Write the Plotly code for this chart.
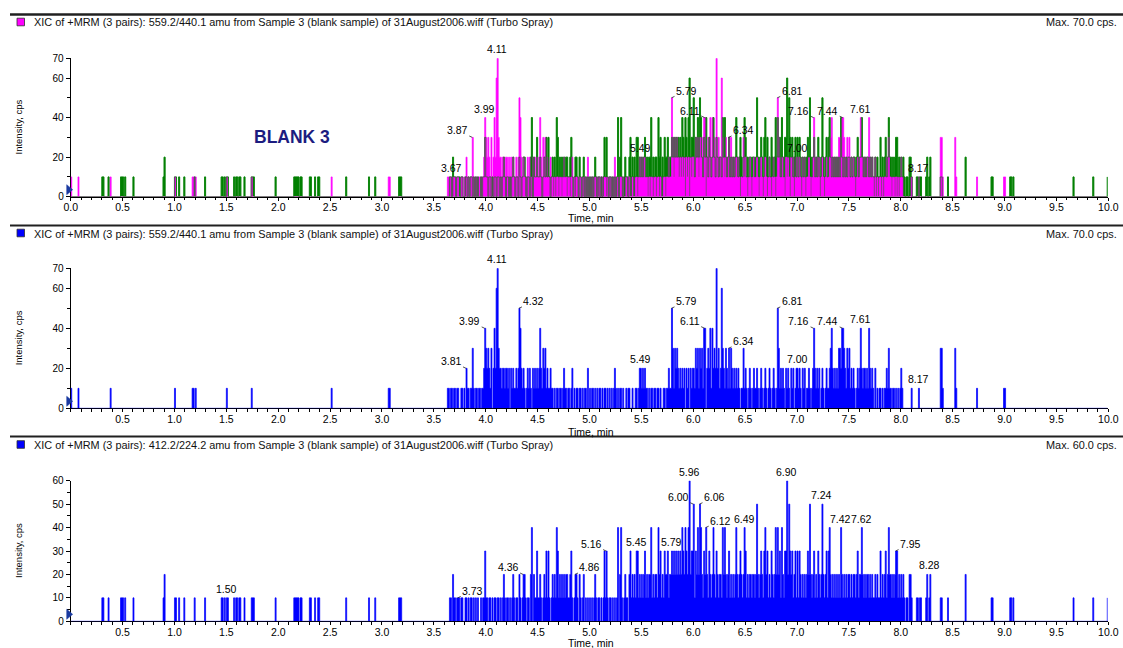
import plotly.graph_objects as go

# ---------------- data ----------------
LEVEL_CPS = 10          # one digit = 10 cps
TIME_STEP_MIN = 0.01    # one digit = 0.01 min

# XIC 559.2/440.1 : one string per minute, digits = intensity / 10 cps
xic_559_levels = [
    "1000000100 0000000000 0000000000 0000000010 0000000000 0000000000 0000000000 0000000000 0000000000 0000000000",
    "1000000000 0000000110 1000000000 0000000000 0000000000 1000000000 0000000000 0000100000 0000000000 0000000000",
    "0000000000 0000000000 0000000000 0000000000 0000000000 0100000000 0000000000 0000000000 0000000000 0000000000",
    "0000001100 0000000000 0000000000 0000000000 0000000000 0000000000 0001101101 1011001101 0211011310 1101101124",
    "3232130242 6732212212 2120212112 1254212101 2121021212 1242132312 1121101011 0110121101 1012010110 1101011020",
    "1011010101 1010110101 0101210101 1010010110 0100110122 1212110101 1011011010 0110112115 3132321212 1202120212",
    "2132313231 4402324142 3272312632 1321313212 1212101131 2101210121 1210121012 1012101210 1531212102 1210212012",
    "2121021201 1210124212 1201210121 1234212121 3324432132 3121210121 2421221214 2121020101 1010112131 1011010101",
    "2100000000 1000000100 0000000000 0000000033 1000000000 0031000000 0000000000 0001000000 0000000000 0000000001",
    "1000000000 0000000000 0000000000 0000000000 0000000000 0000000000 0000000000 0000000000 0000000000 0000000000",
]

# XIC 412.2/224.2
xic_412_levels = [
    "0000000000 0000000000 0000000000 1100001000 0000000011 1010000000 1000000000 0000000000 0000000001 2000000000",
    "1100100001 0000000001 0000000001 0000000000 0000011010 1100000101 1011000100 0000111000 0000000000 0000000100",
    "0000000000 0000011111 0110000000 1100010011 0000000000 0000000000 0000010000 0000000000 0000000100 0001000000",
    "0000000000 0000001110 0000000000 0000000000 0000000000 0000000000 0000011021 1011101100 1101011010 1010010113",
    "1101101011 0110101210 1101012101 1021012210 1102402113 1121012131 3101212143 1212121221 1231012210 2101201010",
    "1010121011 0101313101 1010101402 4101211023 1212133121 2123121224 1212214231 2132231223 2323232324 3243246233",
    "5132425421 3242132124 2132122142 4212312121 2421232124 3121221221 2521232134 2312132124 2423142133 6253231231",
    "3132121212 3252123121 3212521231 3421212121 2142121212 2121221231 2242121221 2121121211 3121231242 2121233121",
    "2121011022 1000011011 0000120120 0000000011 0000010000 0000000000 0020000000 0000000000 0000000110 0000000000",
    "0000011010 0000000000 0000000000 0000000000 0000000000 0000000000 0000001000 0000000000 0000010000 0000000001",
]

panel_headers = [
    "XIC of +MRM (3 pairs): 559.2/440.1 amu from Sample 3 (blank sample) of 31August2006.wiff (Turbo Spray)",
    "XIC of +MRM (3 pairs): 559.2/440.1 amu from Sample 3 (blank sample) of 31August2006.wiff (Turbo Spray)",
    "XIC of +MRM (3 pairs): 412.2/224.2 amu from Sample 3 (blank sample) of 31August2006.wiff (Turbo Spray)",
]
panel_max = ["Max. 70.0 cps.", "Max. 70.0 cps.", "Max. 60.0 cps."]
panel_y_max = [70, 70, 60]
panel_y_ticks = [[0, 20, 40, 60, 70], [0, 20, 40, 60, 70], [0, 10, 20, 30, 40, 50, 60]]
x_ticks_full = [0.0, 0.5, 1.0, 1.5, 2.0, 2.5, 3.0, 3.5, 4.0, 4.5, 5.0,
                5.5, 6.0, 6.5, 7.0, 7.5, 8.0, 8.5, 9.0, 9.5, 10.0]

# peak labels: text (= retention time), level in cps, hook side
p1_labels = ["3.67", "3.87", "3.99", "4.11", "5.49", "5.79", "6.11", "6.34", "6.81", "7.00", "7.16", "7.44", "7.61", "8.17"]
p1_levels = [10, 30, 40, 70, 20, 50, 40, 30, 50, 20, 40, 40, 40, 10]
p1_sides = ["c", "r", "c", "c", "c", "l", "r", "l", "l", "c", "r", "r", "c", "c"]

p2_labels = ["3.81", "3.99", "4.11", "4.32", "5.49", "5.79", "6.11", "6.34", "6.81", "7.00", "7.16", "7.44", "7.61", "8.17"]
p2_levels = [20, 40, 70, 50, 20, 50, 40, 30, 50, 20, 40, 40, 40, 10]
p2_sides = ["r", "r", "c", "l", "c", "l", "r", "l", "l", "c", "r", "r", "c", "c"]

p3_labels = ["1.50", "3.73", "4.36", "4.86", "5.16", "5.45", "5.79", "5.96", "6.00", "6.06", "6.12", "6.49",
             "6.90", "7.24", "7.42", "7.62", "7.95", "8.28"]
p3_levels = [10, 10, 20, 20, 30, 30, 30, 60, 50, 50, 40, 40, 60, 50, 40, 40, 30, 20]
p3_sides = ["c", "l", "r", "l", "r", "c", "c", "c", "r", "l", "l", "c", "c", "c", "c", "c", "l", "c"]


def decode(rows):
    digits = "".join(rows).replace(" ", "")
    return [int(c) * LEVEL_CPS for c in digits]


vals_559 = decode(xic_559_levels)
vals_412 = decode(xic_412_levels)
times = [round(i * TIME_STEP_MIN, 2) for i in range(len(vals_559))]

# ---------------- layout geometry ----------------
W, H = 1123, 648
FONT = "Liberation Sans, Arial, sans-serif"
X0_PX, X1_PX = 70.7, 1108.3
panel_px = [(58.3, 196.7), (268.3, 408.3), (480.7, 621.3)]   # (top, bottom) of y axis
header_line_y = [14.5, 225.5, 436.5]
header_text_y = [22.5, 233.5, 445.0]
xtitle_y = [217.5, 431.5, 642.5]

MAGENTA = "#ff00ff"
GREEN = "#008000"
BLUE = "#0000ff"
NAVY = "#1c1c80"
MARKER = "#1a3aa0"

fig = go.Figure()


def add_trace(xa, ya, y, color, fill=True, width=0.7):
    fig.add_trace(go.Scatter(
        x=times, y=y, mode="lines", xaxis=xa, yaxis=ya,
        line=dict(color=color, width=width, shape="hv"),
        fill="tozeroy" if fill else "none", fillcolor=color,
        hoverinfo="skip", showlegend=False))


# overlay panel: green under magenta, then a thin green outline on top so both show
add_trace("x", "y", vals_412, GREEN)
add_trace("x", "y", vals_559, MAGENTA)
add_trace("x", "y", vals_412, GREEN, fill=False, width=0.6)
add_trace("x2", "y2", vals_559, BLUE)
add_trace("x3", "y3", vals_412, BLUE)

layout = dict(
    template="none",
    width=W, height=H, autosize=False,
    margin=dict(l=0, r=0, t=0, b=0, pad=0),
    paper_bgcolor="white", plot_bgcolor="white",
    font=dict(family=FONT, size=10, color="black"),
    showlegend=False,
)

xdom = [X0_PX / W, X1_PX / W]
annotations = []
shapes = []
for i in range(3):
    sfx = "" if i == 0 else str(i + 1)
    top, bot = panel_px[i]
    xt = x_ticks_full if i == 0 else x_ticks_full[1:]
    layout["xaxis" + sfx] = dict(
        domain=xdom, range=[0, 10], anchor="y" + sfx, automargin=False,
        showline=True, linecolor="black", linewidth=1, layer="below traces",
        showgrid=False, zeroline=False,
        tickmode="array", tickvals=xt, ticktext=["%.1f" % v for v in xt],
        ticks="outside", ticklen=3, tickcolor="black", tickwidth=1,
        ticklabelstandoff=-2,
        tickfont=dict(size=10.5, family=FONT),
        minor=dict(dtick=0.1, tick0=0, ticks="outside", ticklen=2.5, tickcolor="black", showgrid=False),
        fixedrange=True,
    )
    yt = panel_y_ticks[i]
    layout["yaxis" + sfx] = dict(
        domain=[1 - bot / H, 1 - top / H], range=[0, panel_y_max[i]], anchor="x" + sfx, automargin=False,
        showline=True, linecolor="black", linewidth=1, layer="below traces",
        showgrid=False, zeroline=False,
        tickmode="array", tickvals=yt, ticktext=[str(v) for v in yt],
        ticks="outside", ticklen=4, tickcolor="black",
        tickfont=dict(size=10, family=FONT),
        minor=dict(dtick=10 if i < 2 else 5, tick0=0, ticks="outside", ticklen=2.5, tickcolor="black",
                   showgrid=False),
        fixedrange=True,
    )
    # header rule + texts
    shapes.append(dict(type="line", xref="paper", yref="paper",
                       x0=10 / W, x1=1.0, y0=1 - header_line_y[i] / H, y1=1 - header_line_y[i] / H,
                       line=dict(color="#202020", width=2.5 if i == 0 else 2)))
    sq = MAGENTA if i == 0 else BLUE
    yc = header_text_y[i] - 0.5
    shapes.append(dict(type="rect", xref="paper", yref="paper",
                       x0=17 / W, x1=24.5 / W, y0=1 - (yc + 3.8) / H, y1=1 - (yc - 3.8) / H,
                       fillcolor=sq, line=dict(color="#303030", width=0.8)))
    annotations.append(dict(text=panel_headers[i], xref="paper", yref="paper",
                            x=31.5 / W, y=1 - header_text_y[i] / H, xanchor="left", yanchor="middle",
                            showarrow=False, font=dict(size=10.9, family=FONT, color="#111")))
    annotations.append(dict(text=panel_max[i], xref="paper", yref="paper",
                            x=1119 / W, y=1 - header_text_y[i] / H, xanchor="right", yanchor="middle",
                            showarrow=False, font=dict(size=10.9, family=FONT, color="#111")))
    annotations.append(dict(text="Intensity, cps", xref="paper", yref="paper",
                            x=18 / W, y=1 - (top + bot) / 2 / H, xanchor="center", yanchor="middle",
                            textangle=-90, showarrow=False, font=dict(size=9.5, family=FONT)))
    annotations.append(dict(text="Time, min", xref="paper", yref="paper",
                            x=590.5 / W, y=1 - xtitle_y[i] / H, xanchor="center", yanchor="middle",
                            showarrow=False, font=dict(size=10.5, family=FONT)))
    # small navy start-marker at the origin (paper coordinates, not clipped)
    bx = X0_PX
    tri = [(bx - 4, bot - 2), (bx - 4, bot - 12), (bx + 2, bot - 7)]
    path = "M " + " L ".join("%.5f,%.5f" % (px / W, 1 - py / H) for px, py in tri) + " Z"
    shapes.append(dict(type="path", xref="paper", yref="paper", path=path,
                       fillcolor=MARKER, line=dict(color=MARKER, width=0.5)))

# peak labels
for i, (labs, levs, sides) in enumerate([(p1_labels, p1_levels, p1_sides),
                                          (p2_labels, p2_levels, p2_sides),
                                          (p3_labels, p3_levels, p3_sides)]):
    sfx = "" if i == 0 else str(i + 1)
    for lab, lev, side in zip(labs, levs, sides):
        t = float(lab)
        if side == "c":
            annotations.append(dict(text=lab, x=t, y=lev, xref="x" + sfx, yref="y" + sfx,
                                    xanchor="center", yanchor="bottom", yshift=1, showarrow=False,
                                    font=dict(size=10.5, family=FONT)))
        else:
            annotations.append(dict(text=lab, x=t, y=lev, xref="x" + sfx, yref="y" + sfx,
                                    showarrow=True, arrowhead=0, arrowwidth=0.8, arrowcolor="#222",
                                    ax=-15 if side == "r" else 15, ay=-7,
                                    font=dict(size=10.5, family=FONT)))

annotations.append(dict(text="<b>BLANK 3</b>", xref="paper", yref="paper",
                        x=292 / W, y=1 - 137 / H, xanchor="center", yanchor="middle",
                        showarrow=False, font=dict(size=17.5, family=FONT, color=NAVY)))

layout["annotations"] = annotations
layout["shapes"] = shapes
fig.update_layout(**layout)
fig.write_html("out.html", config={"displayModeBar": False, "staticPlot": True},
               post_script="document.body.style.margin='0px';")
